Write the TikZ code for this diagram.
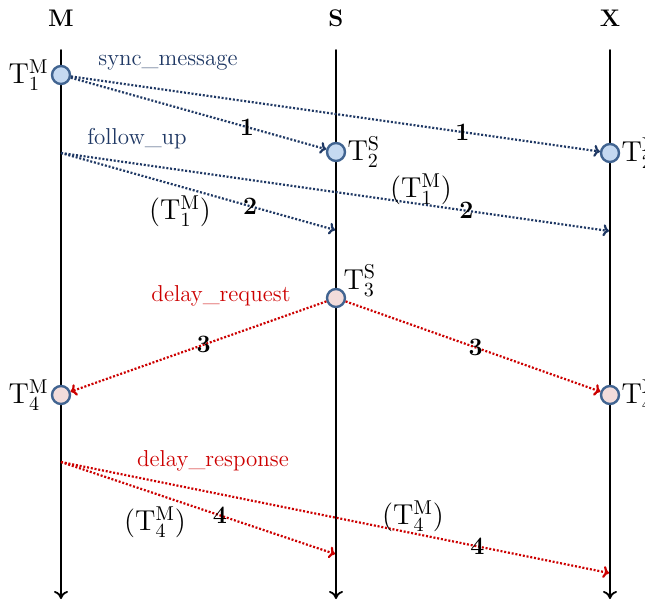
\documentclass[tikz,border=0pt]{standalone}
\usetikzlibrary{arrows.meta}
\definecolor{msgblue}{RGB}{31,56,100}
\definecolor{msgred}{RGB}{204,0,0}
\definecolor{ringblue}{RGB}{65,100,145}
\definecolor{fillblue}{RGB}{197,217,241}
\definecolor{fillpink}{RGB}{242,220,219}
\tikzset{
  timeline/.style={line width=0.9pt, -{To[length=4pt,width=7pt]}},
  event/.style={circle, draw=ringblue, line width=1.2pt, minimum size=9pt, inner sep=0pt},
  msg/.style={line width=1.1pt, line cap=butt, dash pattern=on 1pt off 0.9pt,
    -{To[length=3pt,width=6pt,line cap=round]}},
  tlabel/.style={font=\fontsize{14.5}{16}\selectfont, inner sep=1pt},
  numlabel/.style={font=\fontsize{12.5}{14}\bfseries\selectfont, inner sep=0pt},
  msgname/.style={font=\fontsize{11.5}{14}\selectfont, inner sep=0pt},
}
\newcommand{\tstamp}[2]{$\mathrm{T}_{#1}^{\mathrm{#2}}$}
\newcommand{\tcarry}[2]{$\bigl(\mathrm{T}_{#1}^{\mathrm{#2}}\bigr)$}
\begin{document}
\begin{tikzpicture}[x=0.5pt, y=-0.5pt, line cap=round]
  \useasboundingbox (0,0) rectangle (645,600);
  \clip (0,0) rectangle (645,600);
  % las tres lineas de tiempo
  \foreach \n/\x/\t in {m/61/M, s/336/S, x/610/X} {
    \node[font=\fontsize{12}{14}\bfseries\selectfont] (head\n) at (\x,18) {\t};
    \coordinate (top\n) at (\x,50);
    \coordinate (bot\n) at (\x,599);
    \draw[timeline] (top\n) -- (bot\n);
  }
  % los eventos
  \node[event, fill=fillblue] (t1m) at (61,75) {};
  \node[event, fill=fillblue] (t2s) at (336,152) {};
  \node[event, fill=fillblue] (t2x) at (610,153) {};
  \node[event, fill=fillpink] (t3s) at (336,298) {};
  \node[event, fill=fillpink] (t4m) at (61,395) {};
  \node[event, fill=fillpink] (t4x) at (610,395) {};
  \coordinate (fupm) at (61,153);
  \coordinate (fups) at (335,230);
  \coordinate (fupx) at (609,231);
  \coordinate (dresm) at (61,462);
  \coordinate (dress) at (335,554);
  \coordinate (dresx) at (609,573);
  % las marcas de tiempo
  \node[tlabel, anchor=east] (lt1m) at (t1m.west) {\tstamp{1}{M}};
  \node[tlabel, anchor=west, inner sep=0.5pt] (lt2s) at (t2s.east) {\tstamp{2}{S}};
  \node[tlabel, anchor=west, inner sep=0.5pt] (lt2x) at (t2x.east) {\tstamp{2}{X}};
  \node[tlabel, anchor=south west] (lt3s) at ([xshift=-1pt,yshift=-4pt]t3s.north east) {\tstamp{3}{S}};
  \node[tlabel, anchor=east] (lt4m) at (t4m.west) {\tstamp{4}{M}};
  \node[tlabel, anchor=west, inner sep=0.5pt] (lt4x) at (t4x.east) {\tstamp{4}{X}};
  % sync y follow_up
  \node[msgname, text=msgblue] (nsync) at (168,63) {sync\_message};
  \draw[msg, msgblue] (t1m) -- (t2s) node[numlabel, text=black, pos=0.69] (n1s) {1};
  \draw[msg, msgblue] (t1m) -- (t2x) node[numlabel, text=black, pos=0.74] (n1x) {1};
  \node[msgname, text=msgblue] (nfup) at (137,139) {follow\_up};
  \draw[msg, msgblue] (fupm) -- (fups) node[numlabel, text=black, pos=0.69] (n2s) {2};
  \draw[msg, msgblue] (fupm) -- (fupx) node[numlabel, text=black, pos=0.74] (n2x) {2};
  \node[tlabel] (c1s) at (180,211) {\tcarry{1}{M}};
  \node[tlabel] (c1x) at (421,189) {\tcarry{1}{M}};
  % delay_request
  \node[msgname, text=msgred] (nreq) at (221,296) {delay\_request};
  \draw[msg, msgred] (t3s) -- (t4m) node[numlabel, text=black, pos=0.48] (n3m) {3};
  \draw[msg, msgred] (t3s) -- (t4x) node[numlabel, text=black, pos=0.51] (n3x) {3};
  % delay_response
  \node[msgname, text=msgred] (nres) at (213,461) {delay\_response};
  \draw[msg, msgred] (dresm) -- (dress) node[numlabel, text=black, pos=0.58] (n4s) {4};
  \draw[msg, msgred] (dresm) -- (dresx) node[numlabel, text=black, pos=0.76] (n4x) {4};
  \node[tlabel] (c4s) at (155,522) {\tcarry{4}{M}};
  \node[tlabel] (c4x) at (413,516) {\tcarry{4}{M}};
\end{tikzpicture}
\end{document}
